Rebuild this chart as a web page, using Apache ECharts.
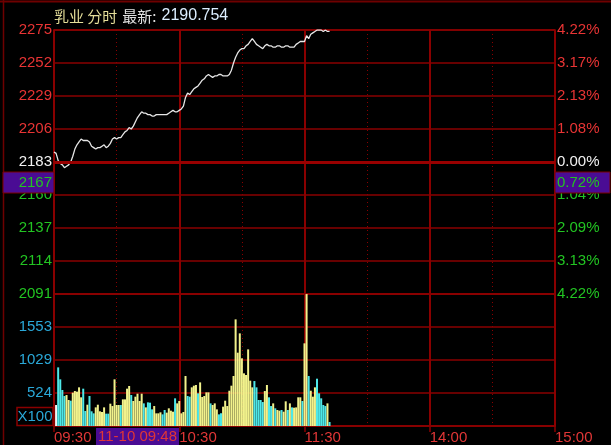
<!DOCTYPE html>
<html>
<head>
<meta charset="utf-8">
<style>
html, body { margin: 0; padding: 0; background: #000; }
#chart { width: 611px; height: 445px; }
</style>
<script src="https://cdn.jsdelivr.net/npm/echarts@6/dist/echarts.min.js"></script>
</head>
<body>
<div id="chart"></div>
<script>
// previous close = middle line of the price panel
var BASE = 2183;
var priceTicks = [2091, 2114, 2137, 2160, 2183, 2206, 2229, 2252, 2275];
var pctTicks = ['4.22%', '3.13%', '2.09%', '1.04%', '0.00%', '1.08%', '2.13%', '3.17%', '4.22%'];
var volTicks = ['', '524', '1029', '1553', ''];
var timeTicks = { 0: '09:30', 60: '10:30', 120: '11:30', 180: '14:00', 240: '15:00' };

// one value per minute from 09:30
var prices = [
    2190, 2189, 2184, 2182, 2181, 2179, 2180, 2181, 2183, 2187,
    2192, 2195, 2197, 2199, 2198, 2198, 2198, 2197, 2194, 2193,
    2192, 2193, 2193, 2194, 2195, 2193, 2194, 2196, 2199, 2200,
    2199, 2200, 2200, 2202, 2204, 2205, 2207, 2206, 2208, 2211,
    2214, 2216, 2218, 2217, 2217, 2216, 2216, 2215, 2215, 2216,
    2216, 2216, 2216, 2216, 2216, 2217, 2218, 2219, 2218, 2218,
    2219, 2220, 2222, 2228, 2231, 2230, 2232, 2234, 2235, 2236,
    2238, 2240, 2241, 2243, 2244, 2243, 2242, 2243, 2243, 2244,
    2244, 2243, 2243, 2243, 2244, 2247, 2252, 2256, 2259, 2261,
    2262, 2262, 2264, 2265, 2267, 2269, 2267, 2265, 2264, 2263,
    2262, 2264, 2265, 2264, 2264, 2263, 2263, 2264, 2264, 2263,
    2263, 2264, 2264, 2263, 2263, 2263, 2265, 2266, 2267, 2267,
    2267, 2271, 2269, 2272, 2273, 2274, 2275, 2275, 2275, 2274,
    2275, 2274, 2274
];

var volumes = [
    null, 330, 922, 734, 566, 472, 487, 409, 398, 524,
    550, 540, 608, 451, 587, 236, 335, 472, 231, 199,
    293, 335, 231, 220, 293, 194, 194, 351, 314, 734,
    330, 330, 330, 419, 419, 587, 629, 487, 393, 461,
    508, 393, 508, 356, 293, 372, 367, 262, 314, 199,
    199, 215, 183, 252, 210, 278, 241, 225, 435, 356,
    393, 199, 220, 786, 472, 461, 608, 634, 645, 514,
    686, 456, 472, 529, 529, 356, 330, 356, 262, 183,
    199, 304, 398, 314, 555, 634, 786, 1677, 1153, 1457,
    1064, 828, 802, 1205, 713, 608, 707, 608, 409, 409,
    377, 550, 645, 451, 314, 356, 278, 252, 241, 252,
    225, 388, 252, 356, 293, 288, 293, 451, 451, 393,
    1300, 2075, 786, 555, 461, 608, 744, 514, 435, 330,
    314, 356, 63
];
// u = up (yellow), d = down (cyan), w = flat (white), one letter per minute
var volSide = '-' +
    'wdddd' + 'uu' + 'd' + 'uuuuu' + 'dd' + 'u' + 'ddd' + 'uuuuu' + 'dd' + 'uuuuu' +
    'd' + 'uuuu' + 'd' + 'uuuuu' + 'd' + 'u' + 'd' +
    'dd' + 'uuuu' + 'dd' + 'uuuu' + 'd' + 'uuuuu' + 'dd' + 'uuu' + 'd' + 'uuuuu' +
    'd' + 'uuu' + 'dd' + 'uuuuuuuuuu' +
    'uuuuu' + 'ddddd' + 'uu' + 'dd' + 'u' + 'd' + 'uu' + 'd' + 'uu' + 'd' + 'u' + 'd' +
    'uuuu' + 'd' + 'uu' + 'd' + 'uuu' + 'ddddd' + 'u' + 'd';

var sideColor = { u: '#f2f28c', d: '#4ee8e8', w: '#f4f4f4' };

var RED = '#8a0000';
var FONT = 'Liberation Sans, Arial, sans-serif';

function pad(n) { return (n < 10 ? '0' : '') + n; }
var times = [];
for (var m = 570; m <= 690; m++) times.push(pad(Math.floor(m / 60)) + ':' + pad(m % 60));
for (var m = 781; m <= 900; m++) times.push(pad(Math.floor(m / 60)) + ':' + pad(m % 60));

function upDownColor(v) {
    v = Number(v);
    if (v > 0) return '#e83434';
    if (v < 0) return '#22c422';
    return '#f2f2f2';
}

function solidX(i) { return i % 60 === 0; }
function dottedX(i) { return i % 60 === 30; }

function xAxisFor(grid, dotted, withLabels) {
    return {
        gridIndex: grid,
        type: 'category',
        data: times,
        boundaryGap: false,
        axisLine: { show: withLabels, lineStyle: { color: RED, width: 1.5 } },
        axisTick: { show: withLabels, interval: solidX, length: 6, lineStyle: { color: RED, width: 1.5 } },
        axisLabel: {
            show: withLabels,
            interval: solidX,
            align: 'left',
            margin: 4,
            color: '#e03636',
            fontSize: 15,
            fontFamily: FONT,
            formatter: function (v, i) { return timeTicks[i] || ''; }
        },
        splitLine: {
            show: true,
            interval: dotted ? dottedX : solidX,
            lineStyle: dotted ? { color: RED, width: 1, type: [1, 3] } : { color: RED, width: 2 }
        }
    };
}

var chart = echarts.init(document.getElementById('chart'));

chart.setOption({
    backgroundColor: '#000',
    animation: false,
    title: {
        left: 54,
        top: 7,
        padding: 0,
        text: '{a|乳业 分时} {b|最新:} {c|2190.754}',
        textStyle: {
            rich: {
                a: { color: '#e6df9a', fontSize: 15, fontWeight: 'normal', fontFamily: 'Noto Sans CJK SC' },
                b: { color: '#e2e2e2', fontSize: 15, fontWeight: 'normal', fontFamily: 'Noto Sans CJK SC' },
                c: { color: '#dceeff', fontSize: 16, fontWeight: 'normal', fontFamily: FONT }
            }
        }
    },
    grid: [
        { left: 54, top: 30, width: 501, height: 264, show: true, borderColor: RED, borderWidth: 1.5 },
        { left: 54, top: 294, width: 501, height: 132, show: true, borderColor: RED, borderWidth: 1.5 }
    ],
    xAxis: [
        xAxisFor(0, false, false),
        xAxisFor(0, true, false),
        xAxisFor(1, false, true),
        xAxisFor(1, true, false)
    ],
    yAxis: [
        {
            gridIndex: 0, type: 'value', position: 'left',
            min: -92, max: 92, interval: 23,
            axisLine: { show: false }, axisTick: { show: false },
            splitLine: { show: true, lineStyle: { color: RED, width: 1.5 } },
            axisLabel: {
                margin: 2, fontSize: 15, fontFamily: FONT, color: upDownColor,
                formatter: function (v) { return String(priceTicks[Math.round((v + 92) / 23)]); }
            }
        },
        {
            gridIndex: 0, type: 'value', position: 'right',
            min: -92, max: 92, interval: 23,
            axisLine: { show: false }, axisTick: { show: false },
            splitLine: { show: false },
            axisLabel: {
                margin: 2, align: 'left', fontSize: 15, fontFamily: FONT, color: upDownColor,
                formatter: function (v) { return pctTicks[Math.round((v + 92) / 23)]; }
            }
        },
        {
            gridIndex: 1, type: 'value', position: 'left',
            min: 0, max: 2076, interval: 519,
            axisLine: { show: false }, axisTick: { show: false },
            splitLine: { show: true, lineStyle: { color: RED, width: 1.5 } },
            axisLabel: {
                margin: 2, fontSize: 15, fontFamily: FONT, color: '#2aa8d8',
                formatter: function (v) { return volTicks[Math.round(v / 519)]; }
            }
        }
    ],
    series: [
        {
            type: 'line',
            xAxisIndex: 0,
            yAxisIndex: 0,
            data: prices.map(function (p) { return p - BASE; }),
            showSymbol: false,
            lineStyle: { color: '#e6e6e6', width: 1.3 },
            markLine: {
                silent: true,
                symbol: 'none',
                label: { show: false },
                lineStyle: { color: '#980000', width: 3, type: 'solid' },
                data: [{ yAxis: 0 }]
            },
            z: 3
        },
        {
            type: 'bar',
            xAxisIndex: 2,
            yAxisIndex: 2,
            barWidth: 2,
            data: volumes.map(function (v, i) {
                if (v == null) return null;
                return { value: v, itemStyle: { color: sideColor[volSide[i]] } };
            })
        }
    ],
    graphic: [
        { type: 'line', shape: { x1: 0, y1: 1.5, x2: 611, y2: 1.5 }, style: { stroke: '#6e0000', lineWidth: 2 } },
        { type: 'line', shape: { x1: 3.5, y1: 0, x2: 3.5, y2: 445 }, style: { stroke: '#6e0000', lineWidth: 1.5 } },
        // cursor readouts
        { type: 'rect', shape: { x: 3, y: 172, width: 51, height: 21 }, style: { fill: '#4a0c94', stroke: '#7a0000', lineWidth: 1 }, z: 10 },
        { type: 'text', x: 52, y: 183, style: { text: '2167', fill: '#22c422', font: '15px ' + FONT, align: 'right', verticalAlign: 'middle' }, z: 11 },
        { type: 'rect', shape: { x: 555, y: 172, width: 55, height: 21 }, style: { fill: '#4a0c94', stroke: '#7a0000', lineWidth: 1 }, z: 10 },
        { type: 'text', x: 557, y: 183, style: { text: '0.72%', fill: '#22c422', font: '15px ' + FONT, align: 'left', verticalAlign: 'middle' }, z: 11 },
        { type: 'rect', shape: { x: 96, y: 428, width: 83, height: 17 }, style: { fill: '#4a0c94' }, z: 10 },
        { type: 'text', x: 137.5, y: 437, style: { text: '11-10 09:48', fill: '#e03636', font: '15px ' + FONT, align: 'center', verticalAlign: 'middle' }, z: 11 },
        // volume unit box
        { type: 'rect', shape: { x: 17, y: 407.5, width: 36, height: 18 }, style: { fill: 'none', stroke: RED, lineWidth: 1.5 }, z: 10 },
        { type: 'text', x: 35, y: 417, style: { text: 'X100', fill: '#2aa8d8', font: '15px ' + FONT, align: 'center', verticalAlign: 'middle' }, z: 11 }
    ]
});
</script>
</body>
</html>
